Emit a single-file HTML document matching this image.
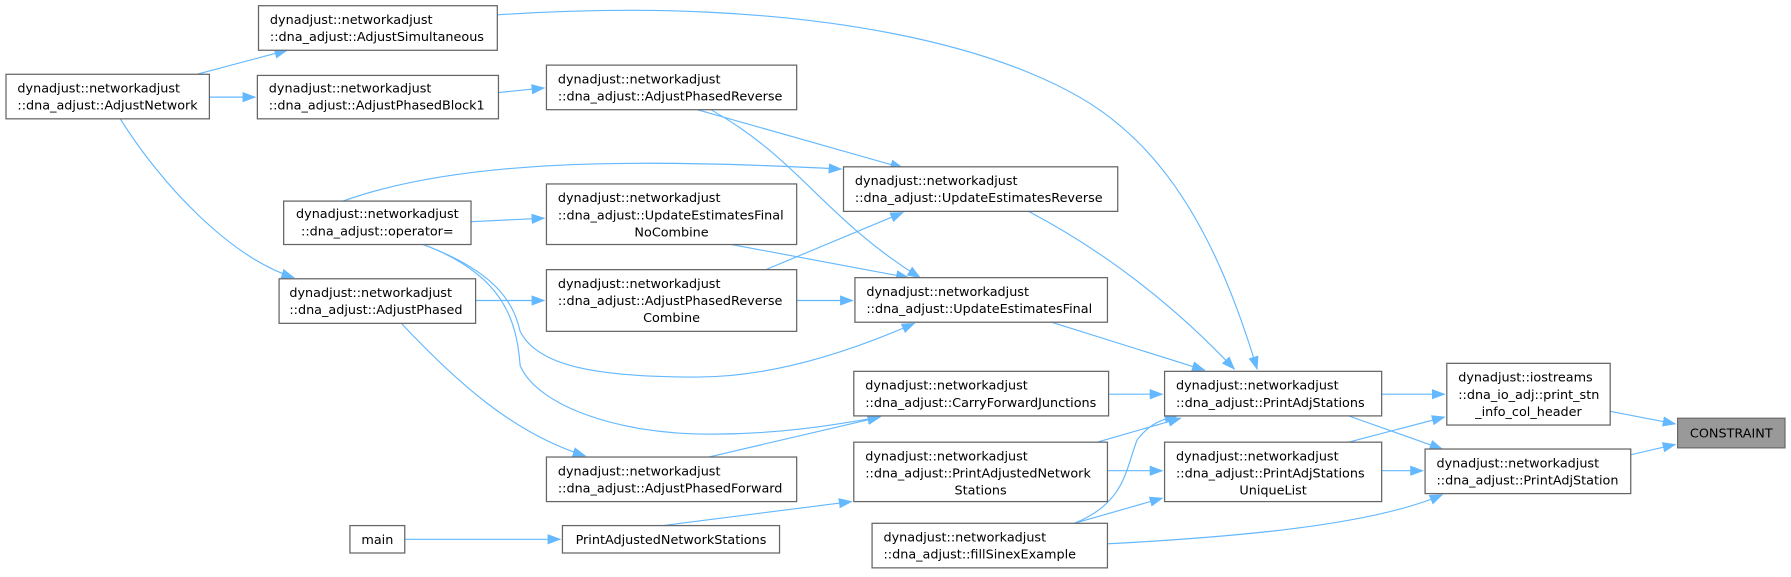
<!DOCTYPE html>
<html><head><meta charset="utf-8"><style>
html,body{margin:0;padding:0;background:#fff;}
svg{display:block;}
text{font-family:"DejaVu Sans","Liberation Sans",sans-serif;font-size:11.2px;fill:#000;}
.b{fill:#fff;stroke:#666;stroke-width:1.1;}
.e{fill:none;stroke:#63b8ff;stroke-width:1;marker-end:url(#a);}
</style></head><body>
<svg width="1791" height="577" viewBox="0 0 1567 505" xmlns="http://www.w3.org/2000/svg">
<defs><marker id="a" markerWidth="12" markerHeight="9" refX="11" refY="4.5" orient="auto" markerUnits="userSpaceOnUse"><path d="M0,0 L12,4.5 L0,9 z" fill="#63b8ff"/></marker></defs>

<!-- edges -->
<path class="e" d="M1409,360 L1466,371"/>
<path class="e" d="M1427,398 L1466,389"/>
<path class="e" d="M1209,345 L1264,345"/>
<path class="e" d="M1180,387 L1264,365"/>
<path class="e" d="M1180,364 L1262,393"/>
<path class="e" d="M1209,412 L1245,412"/>
<path class="e" d="M969,476 C1080,470 1200,460 1262,433"/>
<path class="e" d="M920,282 L1054,324"/>
<path class="e" d="M900,185 C970,222 1030,270 1080,323"/>
<path class="e" d="M435,13 C700,-5 900,40 980,110 C1040,160 1075,240 1100,323"/>
<path class="e" d="M970,345 L1017,345"/>
<path class="e" d="M960,387 L1033,366"/>
<path class="e" d="M940,458 C985,440 985,410 995,385 C1005,372 1015,367 1030,364"/>
<path class="e" d="M969,412 L1017,412"/>
<path class="e" d="M940,458 L1017,436"/>
<path class="e" d="M610,96 L790,147"/>
<path class="e" d="M622,96 C700,140 720,190 805,243"/>
<path class="e" d="M300,176 C400,140 550,138 736,148"/>
<path class="e" d="M412,194 L476,191"/>
<path class="e" d="M370,214 C440,240 450,270 455,290 C470,320 520,330 610,330 C680,330 750,305 800,283"/>
<path class="e" d="M370,214 C440,240 452,280 455,320 C470,355 540,380 620,380 C690,380 740,370 770,365"/>
<path class="e" d="M670,236 L790,186"/>
<path class="e" d="M640,214 L795,243"/>
<path class="e" d="M697,263 L746,263"/>
<path class="e" d="M620,400 L770,365"/>
<path class="e" d="M416,263 L476,263"/>
<path class="e" d="M351,283 C400,335 450,380 512,399"/>
<path class="e" d="M172,65 L251,44"/>
<path class="e" d="M183,85 L223,85"/>
<path class="e" d="M105,104 C140,160 200,225 257,243"/>
<path class="e" d="M436,81 L476,77"/>
<path class="e" d="M580,460 L745,439"/>
<path class="e" d="M354,472 L490,472"/>

<!-- nodes -->
<rect class="b" x="226" y="5" width="209" height="39"/>
<text x="236" y="21">dynadjust::networkadjust</text><text x="236" y="36">::dna_adjust::AdjustSimultaneous</text>

<rect class="b" x="5" y="65" width="178" height="39"/>
<text x="15" y="81">dynadjust::networkadjust</text><text x="15" y="96">::dna_adjust::AdjustNetwork</text>

<rect class="b" x="225" y="66" width="211" height="38"/>
<text x="235" y="81">dynadjust::networkadjust</text><text x="235" y="96">::dna_adjust::AdjustPhasedBlock1</text>

<rect class="b" x="478" y="57" width="219" height="39"/>
<text x="488" y="73">dynadjust::networkadjust</text><text x="488" y="88">::dna_adjust::AdjustPhasedReverse</text>

<rect class="b" x="248" y="176" width="164" height="38"/>
<text x="330" y="191" text-anchor="middle">dynadjust::networkadjust</text><text x="330" y="206" text-anchor="middle">::dna_adjust::operator=</text>

<rect class="b" x="478" y="161" width="219" height="53"/>
<text x="488" y="177">dynadjust::networkadjust</text><text x="488" y="192">::dna_adjust::UpdateEstimatesFinal</text><text x="587.5" y="207" text-anchor="middle">NoCombine</text>

<rect class="b" x="244" y="244" width="172" height="39"/>
<text x="253" y="260">dynadjust::networkadjust</text><text x="253" y="275">::dna_adjust::AdjustPhased</text>

<rect class="b" x="478" y="236" width="219" height="54"/>
<text x="488" y="252">dynadjust::networkadjust</text><text x="488" y="267">::dna_adjust::AdjustPhasedReverse</text><text x="587.5" y="282" text-anchor="middle">Combine</text>

<rect class="b" x="738" y="146" width="240" height="39"/>
<text x="748" y="162">dynadjust::networkadjust</text><text x="748" y="177">::dna_adjust::UpdateEstimatesReverse</text>

<rect class="b" x="748" y="243" width="221" height="39"/>
<text x="758" y="259">dynadjust::networkadjust</text><text x="758" y="274">::dna_adjust::UpdateEstimatesFinal</text>

<rect class="b" x="747" y="325" width="223" height="39"/>
<text x="757" y="341">dynadjust::networkadjust</text><text x="757" y="356">::dna_adjust::CarryForwardJunctions</text>

<rect class="b" x="478" y="400" width="219" height="39"/>
<text x="488" y="416">dynadjust::networkadjust</text><text x="488" y="431">::dna_adjust::AdjustPhasedForward</text>

<rect class="b" x="747" y="387" width="222" height="52"/>
<text x="757" y="403">dynadjust::networkadjust</text><text x="757" y="418">::dna_adjust::PrintAdjustedNetwork</text><text x="858" y="433" text-anchor="middle">Stations</text>

<rect class="b" x="306" y="460" width="48" height="24"/>
<text x="330" y="476" text-anchor="middle">main</text>

<rect class="b" x="492" y="460" width="190" height="24"/>
<text x="587" y="476" text-anchor="middle">PrintAdjustedNetworkStations</text>

<rect class="b" x="763" y="458" width="206" height="39"/>
<text x="773" y="474">dynadjust::networkadjust</text><text x="773" y="489">::dna_adjust::fillSinexExample</text>

<rect class="b" x="1019" y="325" width="190" height="39"/>
<text x="1029" y="341">dynadjust::networkadjust</text><text x="1029" y="356">::dna_adjust::PrintAdjStations</text>

<rect class="b" x="1019" y="387" width="190" height="52"/>
<text x="1029" y="403">dynadjust::networkadjust</text><text x="1029" y="418">::dna_adjust::PrintAdjStations</text><text x="1114" y="433" text-anchor="middle">UniqueList</text>

<rect class="b" x="1266" y="318" width="143" height="54"/>
<text x="1276" y="334">dynadjust::iostreams</text><text x="1276" y="349">::dna_io_adj::print_stn</text><text x="1337.5" y="364" text-anchor="middle">_info_col_header</text>

<rect class="b" x="1247" y="393" width="180" height="39"/>
<text x="1257" y="409">dynadjust::networkadjust</text><text x="1257" y="424">::dna_adjust::PrintAdjStation</text>

<rect x="1468" y="366" width="94" height="26" fill="#999" stroke="#666"/>
<text x="1515" y="383" text-anchor="middle">CONSTRAINT</text>
</svg>
</body></html>
